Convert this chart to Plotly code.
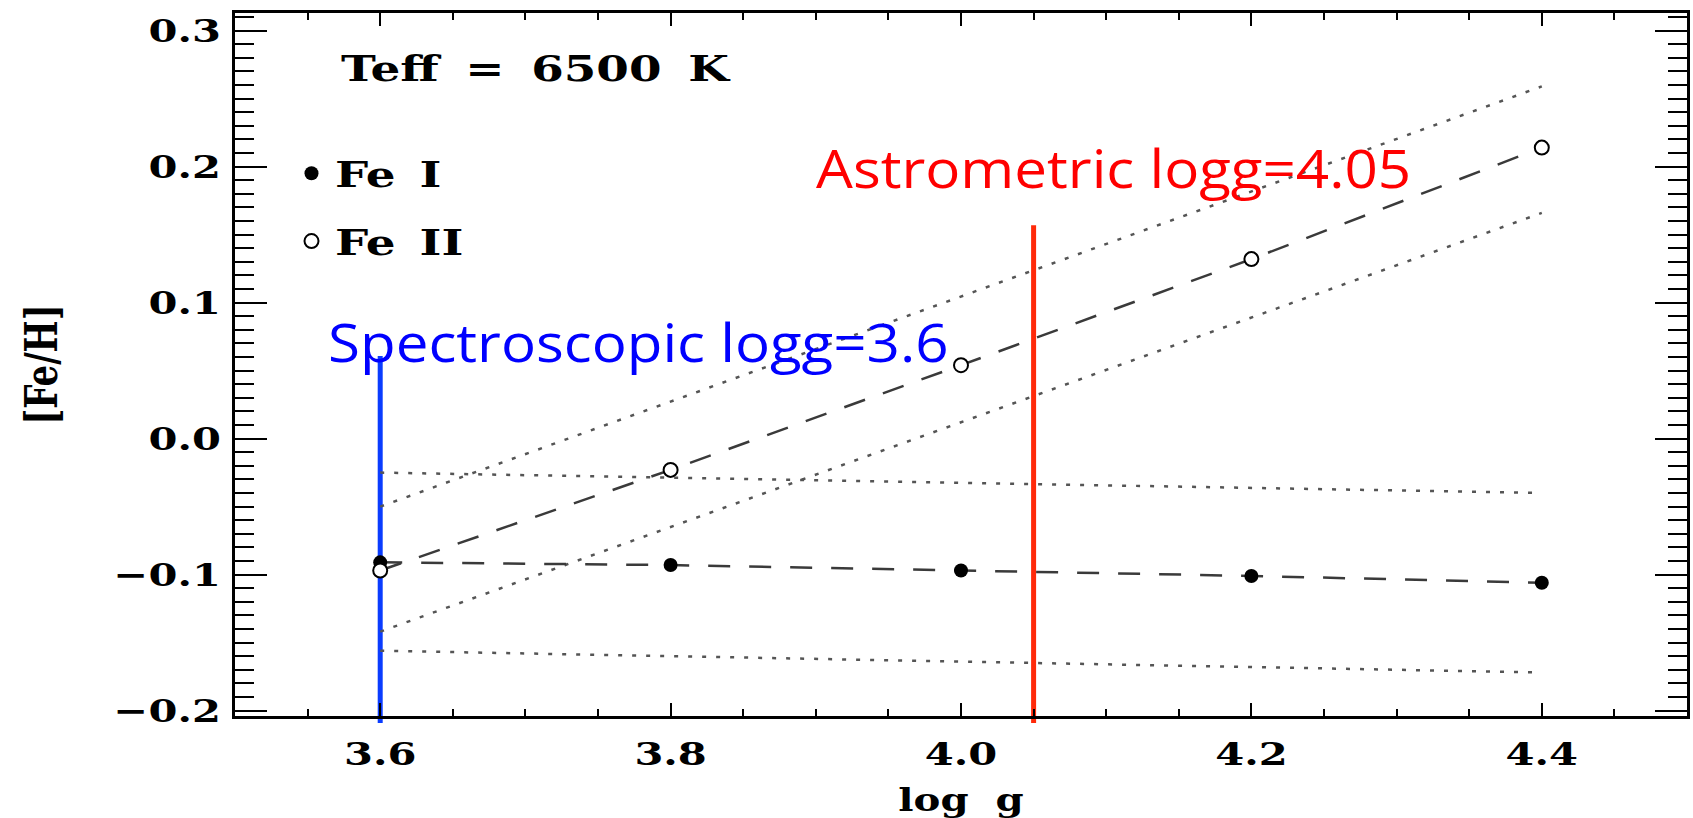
import plotly.graph_objects as go

# [Fe/H] from Fe I and Fe II lines as a function of log g, Teff = 6500 K
logg = [3.6, 3.8, 4.0, 4.2, 4.4]
feh_fe1 = [-0.091, -0.093, -0.097, -0.101, -0.106]
feh_fe2 = [-0.097, -0.023, 0.054, 0.132, 0.214]

# 1-sigma envelopes, given at the two ends of the gravity grid
band_logg = [3.6, 4.4]
fe1_upper = [-0.025, -0.040]
fe1_lower = [-0.156, -0.172]
fe2_upper = [-0.050, 0.259]
fe2_lower = [-0.142, 0.166]

# surface-gravity estimates marked on the plot
spec_logg = 3.6
astro_logg = 4.05

x_ticks = [3.6, 3.8, 4.0, 4.2, 4.4]
y_ticks = [-0.2, -0.1, 0.0, 0.1, 0.2, 0.3]

SERIF = "DejaVu Serif"
SANS = "Open Sans"

fig = go.Figure()

dotted = dict(color="#555555", width=2.5, dash="4px,10px")
for edge in (fe2_upper, fe2_lower, fe1_upper, fe1_lower):
    fig.add_trace(go.Scatter(x=band_logg, y=edge, mode="lines", line=dotted,
                             showlegend=False, hoverinfo="skip"))

dashed = dict(color="#3a3a3a", width=2.5, dash="22px,19px")
for vals in (feh_fe1, feh_fe2):
    fig.add_trace(go.Scatter(x=logg, y=vals, mode="lines", line=dashed,
                             showlegend=False, hoverinfo="skip"))

fig.add_trace(go.Scatter(x=logg, y=feh_fe1, mode="markers", name="Fe I",
                         legendgroup="fe1",
                         marker=dict(symbol="circle", size=14, color="black")))
fig.add_trace(go.Scatter(x=logg, y=feh_fe2, mode="markers", name="Fe II",
                         legendgroup="fe2",
                         marker=dict(symbol="circle", size=14, color="white",
                                     line=dict(color="black", width=2))))

# vertical markers for the two gravity estimates
for xv, color, top in [(spec_logg, "#0a3cff", 0.512), (astro_logg, "#ff2a0a", 0.698)]:
    fig.add_shape(type="line", xref="x", yref="paper", x0=xv, x1=xv,
                  y0=-0.01, y1=top, line=dict(color=color, width=5), layer="below")

fig.add_annotation(text="Teff = 6500 K", xref="paper", yref="paper",
                   x=0.0798, y=0.922, xanchor="left", yanchor="middle",
                   showarrow=False,
                   font=dict(family=SERIF, size=36, color="black", weight="bold"))
fig.add_annotation(text=f"Spectroscopic logg={spec_logg}", xref="paper", yref="paper",
                   x=0.0625, y=0.533, xanchor="left", yanchor="middle",
                   showarrow=False, font=dict(family=SANS, size=53, color="#0000ff"))
fig.add_annotation(text=f"Astrometric logg={astro_logg}", xref="paper", yref="paper",
                   x=0.3986, y=0.780, xanchor="left", yanchor="middle",
                   showarrow=False, font=dict(family=SANS, size=53, color="#ff0000"))

axis_common = dict(showline=True, linecolor="black", linewidth=2.5, mirror="ticks",
                   ticks="inside", tickcolor="black", tickwidth=2,
                   showgrid=False, zeroline=False)
tick_font = dict(family=SERIF, size=32, color="black", weight="bold")

fig.update_layout(
    width=1693, height=818,
    margin=dict(l=235, r=3, t=12.5, b=102),
    paper_bgcolor="white", plot_bgcolor="white",
    xaxis=dict(**axis_common, range=[3.5, 4.5], tickmode="array", tickvals=x_ticks,
               tickformat=".1f", ticklen=13, tickfont=tick_font, ticklabelstandoff=8,
               minor=dict(tickmode="linear", tick0=3.5, dtick=0.05, ticklen=7,
                          tickwidth=2, ticks="inside", tickcolor="black"),
               title=dict(text="log g", standoff=20,
                          font=dict(family=SERIF, size=31, color="black", weight="bold"))),
    yaxis=dict(**axis_common, range=[-0.204, 0.313], tickmode="array", tickvals=y_ticks,
               tickformat=".1f", ticklen=32, tickfont=tick_font, ticklabelstandoff=5,
               minor=dict(tickmode="linear", tick0=0, dtick=0.01, ticklen=19,
                          tickwidth=2, ticks="inside", tickcolor="black"),
               title=dict(text="[Fe/H]", standoff=75,
                          font=dict(family=SERIF, size=34, color="black", weight="bold"))),
    legend=dict(x=0.0365, y=0.8145, xanchor="left", yanchor="top",
                bgcolor="rgba(0,0,0,0)", tracegroupgap=18, itemwidth=37,
                font=dict(family=SERIF, size=36, color="black", weight="bold")),
    showlegend=True,
)

# The serif lettering is drawn wide: each label is stretched horizontally
# about its anchor edge after the plot has been laid out.
stretch_js = """
var gd = document.getElementById('{plot_id}');
var SX = 1.3;
function stretch(el, mode, s) {
  var b = el.getBBox();
  if (!b.width) { return; }
  var tr = el.getAttribute('transform') || '';
  var t;
  if (mode === 'y') {
    var cy = b.y + b.height / 2;
    t = ' translate(0,' + cy + ') scale(1,' + s + ') translate(0,' + (-cy) + ')';
  } else {
    var cx = mode === 'left' ? b.x : (mode === 'right' ? b.x + b.width : b.x + b.width / 2);
    t = ' translate(' + cx + ',0) scale(' + s + ',1) translate(' + (-cx) + ',0)';
  }
  el.setAttribute('transform', tr + t);
}
gd.querySelectorAll('.legend .scrollbox').forEach(function (e) { e.removeAttribute('clip-path'); });
gd.querySelectorAll('.xtick text').forEach(function (e) { stretch(e, 'center', SX); });
gd.querySelectorAll('.ytick text').forEach(function (e) { stretch(e, 'right', SX); });
gd.querySelectorAll('.g-xtitle text').forEach(function (e) {
  e.style.wordSpacing = '10px'; stretch(e, 'center', SX);
});
gd.querySelectorAll('.g-ytitle text').forEach(function (e) { stretch(e, 'y', SX); });
gd.querySelectorAll('.legendtext').forEach(function (e) {
  e.style.wordSpacing = '6px'; stretch(e, 'left', SX);
});
gd.querySelectorAll('.annotation-text').forEach(function (e) {
  var txt = e.getAttribute('data-unformatted') || '';
  if (txt.indexOf('Teff') === 0) {
    e.style.wordSpacing = '8px'; stretch(e, 'left', SX);
  } else {
    stretch(e, 'left', 1.1);
  }
});
"""

fig.write_html("out.html", post_script=stretch_js)
